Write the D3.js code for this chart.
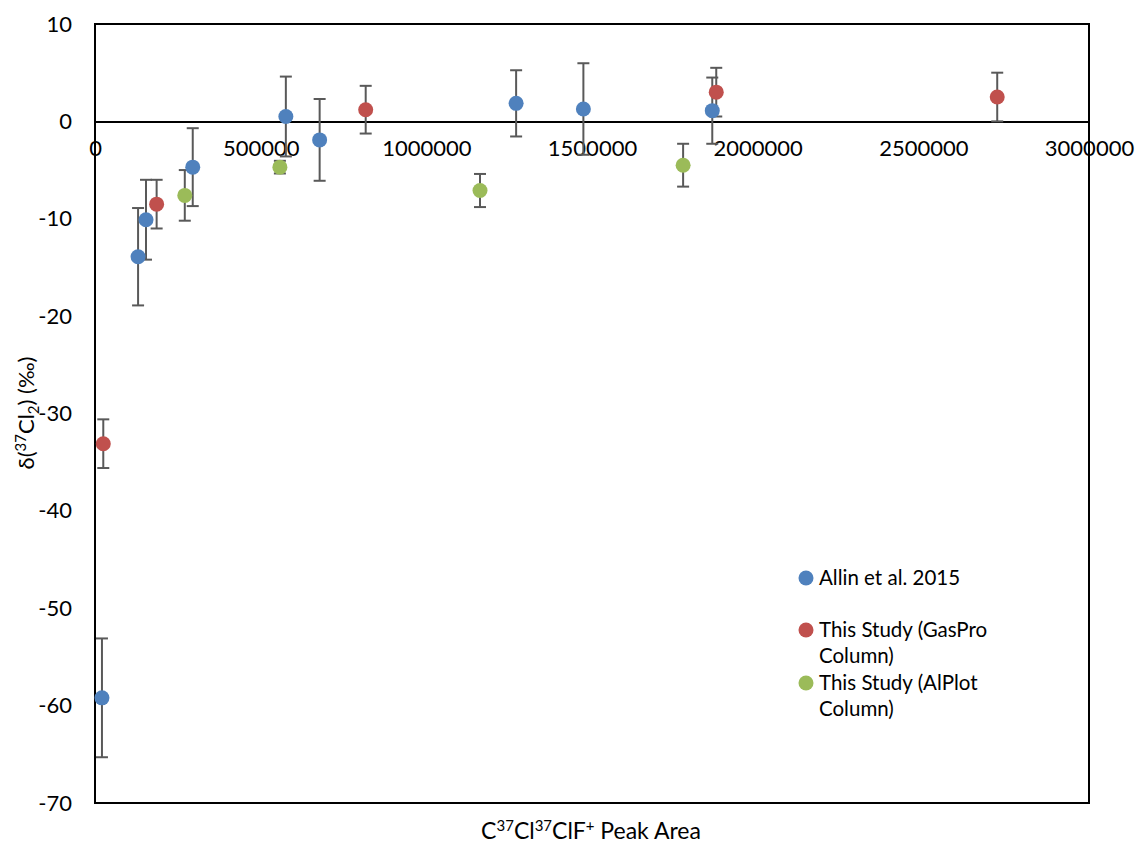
<!DOCTYPE html>
<html>
<head>
<meta charset="utf-8">
<script src="https://cdn.jsdelivr.net/npm/d3@7"></script>
<style>
  body { margin: 0; background: #fff; }
  svg { font-family: Lato, "Open Sans", sans-serif; }
</style>
</head>
<body>
<svg id="chart" width="1135" height="845"></svg>
<script>
// Allin et al. 2015
const allinX = [21000, 130000, 154000, 295000, 576000, 678000, 1271000, 1474000, 1863000]
const allinY = [-59.2, -13.9, -10.1, -4.7, 0.5, -1.9, 1.85, 1.27, 1.1]
const allinErr = [6.1, 5.0, 4.1, 4.0, 4.1, 4.2, 3.4, 4.7, 3.4]

// This Study (GasPro Column)
const gasproX = [25000, 186000, 817000, 1875000, 2723000]
const gasproY = [-33.1, -8.5, 1.2, 3.0, 2.5]
const gasproErr = [2.5, 2.5, 2.45, 2.5, 2.5]

// This Study (AlPlot Column)
const alplotX = [271000, 558000, 1162000, 1775000]
const alplotY = [-7.6, -4.7, -7.1, -4.5]
const alplotErr = [2.6, 0.65, 1.7, 2.2]

const xTicks = [0, 500000, 1000000, 1500000, 2000000, 2500000, 3000000]
const yTicks = [10, 0, -10, -20, -30, -40, -50, -60, -70]

const series = [
  { name: ["Allin et al. 2015"], x: allinX, y: allinY, err: allinErr, color: "#4f81bd" },
  { name: ["This Study (GasPro", "Column)"], x: gasproX, y: gasproY, err: gasproErr, color: "#c0504d" },
  { name: ["This Study (AlPlot", "Column)"], x: alplotX, y: alplotY, err: alplotErr, color: "#9bbb59" }
]

const plotL = 95, plotR = 1089, plotT = 24, plotB = 803

const x = d3.scaleLinear().domain([0, 3000000]).range([plotL, plotR])
const y = d3.scaleLinear().domain([-70, 10]).range([plotB, plotT])

const svg = d3.select("#chart")
const fmt = d => String(d)   // plain hyphen minus, like the original

// frame
svg.append("rect")
  .attr("x", plotL).attr("y", plotT)
  .attr("width", plotR - plotL).attr("height", plotB - plotT)
  .attr("fill", "none").attr("stroke", "#000").attr("stroke-width", 2)

// y axis labels
const yAxis = svg.append("g")
  .attr("transform", `translate(${plotL},0)`)
  .call(d3.axisLeft(y).tickValues(yTicks).tickSize(0).tickPadding(23).tickFormat(fmt))
yAxis.select(".domain").remove()
yAxis.selectAll("text").attr("font-size", 22).attr("fill", "#000").attr("font-family", "Lato, sans-serif")

// x axis at zero
const xAxis = svg.append("g")
  .attr("transform", `translate(0,${y(0)})`)
  .call(d3.axisBottom(x).tickValues(xTicks).tickSize(0).tickPadding(19).tickFormat(fmt))
xAxis.select(".domain").attr("stroke", "#000").attr("stroke-width", 2)
xAxis.selectAll("text").attr("font-size", 22).attr("fill", "#000").attr("font-family", "Lato, sans-serif")

// error bars
const cap = 6
series.forEach(s => {
  const g = svg.append("g").attr("stroke", "#595959").attr("stroke-width", 2).attr("fill", "none")
  s.x.forEach((xv, i) => {
    const cx = x(xv)
    const y1 = y(s.y[i] + s.err[i]), y2 = y(s.y[i] - s.err[i])
    g.append("line").attr("x1", cx).attr("x2", cx).attr("y1", y1).attr("y2", y2)
    g.append("line").attr("x1", cx - cap).attr("x2", cx + cap).attr("y1", y1).attr("y2", y1)
    g.append("line").attr("x1", cx - cap).attr("x2", cx + cap).attr("y1", y2).attr("y2", y2)
  })
})

// points
series.forEach(s => {
  svg.append("g").selectAll("circle")
    .data(s.x.map((xv, i) => [xv, s.y[i]]))
    .join("circle")
    .attr("cx", d => x(d[0]))
    .attr("cy", d => y(d[1]))
    .attr("r", 7.5)
    .attr("fill", s.color)
})

// legend
const legendY = [578, 630, 683]
series.forEach((s, i) => {
  const g = svg.append("g").attr("transform", `translate(806,${legendY[i]})`)
  g.append("circle").attr("r", 7.5).attr("fill", s.color)
  s.name.forEach((line, j) => {
    g.append("text")
      .attr("x", 13).attr("y", j * 26).attr("dy", "0.35em")
      .attr("font-size", 20.5).attr("fill", "#000")
      .text(line)
  })
})

// x axis title
const xt = svg.append("text")
  .attr("x", 591).attr("y", 839)
  .attr("text-anchor", "middle")
  .attr("font-size", 23).attr("fill", "#000")
xt.append("tspan").text("C")
xt.append("tspan").attr("font-size", 15).attr("dy", -8).text("37")
xt.append("tspan").attr("dy", 8).text("Cl")
xt.append("tspan").attr("font-size", 15).attr("dy", -8).text("37")
xt.append("tspan").attr("dy", 8).text("ClF")
xt.append("tspan").attr("font-size", 15).attr("dy", -8).text("+")
xt.append("tspan").attr("dy", 8).text(" Peak Area")

// y axis title
const yt = svg.append("text")
  .attr("transform", "translate(34,413) rotate(-90)")
  .attr("text-anchor", "middle")
  .attr("font-size", 22).attr("fill", "#000")
yt.append("tspan").text("δ(")
yt.append("tspan").attr("font-size", 15).attr("dy", -8).text("37")
yt.append("tspan").attr("dy", 8).text("Cl")
yt.append("tspan").attr("font-size", 15).attr("dy", 5).text("2")
yt.append("tspan").attr("dy", -5).text(") (‰)")
</script>
</body>
</html>
